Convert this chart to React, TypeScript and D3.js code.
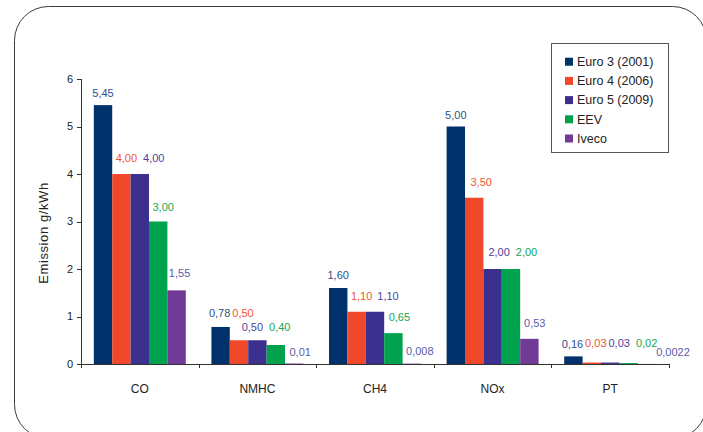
import React from "react";
import * as d3 from "d3";

const categories = ["CO", "NMHC", "CH4", "NOx", "PT"];
const series = ["Euro 3 (2001)", "Euro 4 (2006)", "Euro 5 (2009)", "EEV", "Iveco"];
// values[series][category]
const euro3 = [5.45, 0.78, 1.6, 5.0, 0.16];
const euro4 = [4.0, 0.5, 1.1, 3.5, 0.03];
const euro5 = [4.0, 0.5, 1.1, 2.0, 0.03];
const eev = [3.0, 0.4, 0.65, 2.0, 0.02];
const iveco = [1.55, 0.01, 0.008, 0.53, 0.0022];
const seriesValues = [euro3, euro4, euro5, eev, iveco];
const yTicks = [0, 1, 2, 3, 4, 5, 6];

const barColors = ["#00316a", "#f0482a", "#3c308e", "#00a24d", "#6f3b97"];
const labelColors = ["#2d4f87", "#f25533", "#4d3f9b", "#14a656", "#5b5ba8"];

// manual label nudges [category][series] -> [dx, dy] (dy = text center relative to bar top)
const labelOffsets = [
  [[0, -12], [5, -16], [14, -16], [5, -14.5], [3, -17]],
  [[-1, -14], [4, -27], [-5, -13], [4, -18], [6, -11.5]],
  [[0, -13], [5, -16], [13, -16], [6, -16], [8, -12.6]],
  [[0, -11.5], [7, -16], [6.5, -16.7], [15.5, -16.7], [5.4, -15.5]],
  [[-1, -12.4], [4, -19.6], [9, -19.6], [18, -20], [26, -12]],
];

function fmt(v: number): string {
  let s = v.toFixed(2);
  if (parseFloat(s) !== v) s = String(v);
  return s.replace(".", ",");
}

export default function App() {
  const W = 703, H = 432;
  const x0 = 81, x1 = 669, yBottom = 364, yTop = 79;
  const x = d3.scaleBand<string>().domain(categories).range([x0, x1]).paddingInner(0.218).paddingOuter(0.109);
  const xs = d3.scaleBand<string>().domain(series).range([0, x.bandwidth()]);
  const y = d3.scaleLinear().domain([0, 6]).range([yBottom, yTop]);
  const font = "Liberation Sans, Arial, sans-serif";
  const boundaries = categories.map((_, i) => x0 + (i + 1) * x.step());

  return (
    <svg width={W} height={H} style={{ position: "fixed", left: 0, top: 0, background: "#fff" }} fontFamily={font}>
      <rect x={14.5} y={6.5} width={692} height={432} rx={34} ry={34} fill="#fff" stroke="#3a3a3a" strokeWidth={1} />
      {/* bars */}
      {categories.map((c, ci) =>
        series.map((s, si) => {
          const v = seriesValues[si][ci];
          const bx = (x(c) as number) + (xs(s) as number);
          return (
            <rect key={c + s} x={bx} y={y(v)} width={xs.bandwidth()} height={yBottom - y(v)} fill={barColors[si]} />
          );
        })
      )}
      {/* value labels */}
      {categories.map((c, ci) =>
        series.map((s, si) => {
          const v = seriesValues[si][ci];
          const cx = (x(c) as number) + (xs(s) as number) + xs.bandwidth() / 2;
          const [dx, dy] = labelOffsets[ci][si];
          return (
            <text key={"l" + c + s} x={cx + dx} y={y(v) + dy} dy="0.35em" textAnchor="middle" fontSize={11} fill={labelColors[si]}>
              {fmt(v)}
            </text>
          );
        })
      )}
      {/* y axis */}
      <line x1={x0 + 0.5} x2={x0 + 0.5} y1={yTop} y2={yBottom + 4} stroke="#333" strokeWidth={1} />
      {yTicks.map((t) => (
        <g key={"yt" + t}>
          <line x1={x0 - 4} x2={x0} y1={Math.round(y(t)) + 0.5} y2={Math.round(y(t)) + 0.5} stroke="#333" />
          <text x={x0 - 8} y={y(t)} dy="0.35em" textAnchor="end" fontSize={11} fill="#222">
            {t}
          </text>
        </g>
      ))}
      {/* x axis */}
      <line x1={x0} x2={x1} y1={yBottom + 0.5} y2={yBottom + 0.5} stroke="#333" strokeWidth={1} />
      {boundaries.map((bx, i) => (
        <line key={"xt" + i} x1={Math.round(bx) + 0.5} x2={Math.round(bx) + 0.5} y1={yBottom} y2={yBottom + 4} stroke="#333" />
      ))}
      {categories.map((c) => (
        <text key={"xl" + c} x={(x(c) as number) + x.bandwidth() / 2} y={389} dy="0.35em" textAnchor="middle" fontSize={12} fill="#222">
          {c}
        </text>
      ))}
      {/* y title */}
      <text transform={`translate(43,233) rotate(-90)`} dy="0.35em" textAnchor="middle" fontSize={13} letterSpacing={0.6} fill="#222">
        Emission g/kWh
      </text>
      {/* legend */}
      <rect x={551.5} y={43.5} width={117} height={109} fill="#fff" stroke="#555" strokeWidth={1} />
      {series.map((s, si) => (
        <g key={"lg" + s} transform={`translate(565, ${61.7 + si * 19.2})`}>
          <rect x={0} y={-4} width={8} height={8} fill={barColors[si]} />
          <text x={12} y={0} dy="0.35em" fontSize={12.5} fill="#222">
            {s}
          </text>
        </g>
      ))}
    </svg>
  );
}
